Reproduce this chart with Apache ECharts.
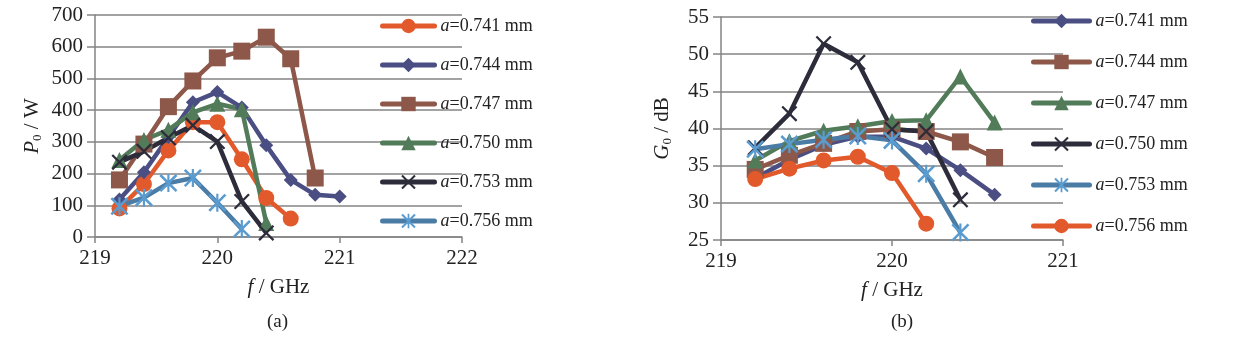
<!DOCTYPE html>
<html><head><meta charset="utf-8">
<script src="https://cdn.jsdelivr.net/npm/echarts@6/dist/echarts.min.js"></script>
<style>html,body{margin:0;padding:0;background:#fff}#c{width:1235px;height:340px}</style>
</head><body><div id="c"></div>
<script>
// Frequencies (GHz)
const freq = [219.2, 219.4, 219.6, 219.8, 220.0, 220.2, 220.4, 220.6, 220.8, 221.0];
// Chart (a): output power P0 / W
const labelsA = ['0.741', '0.744', '0.747', '0.750', '0.753', '0.756'];
const p741 = [90, 167, 273, 362, 362, 245, 123, 58];
const p744 = [118, 204, 315, 425, 457, 408, 289, 180, 133, 128];
const p747 = [180, 293, 411, 492, 565, 586, 630, 562, 186];
const p750 = [243, 306, 338, 393, 420, 403, 44];
const p753 = [236, 270, 313, 352, 301, 112, 13];
const p756 = [97, 124, 170, 186, 108, 25];
// Chart (b): gain G0 / dB
const labelsB = ['0.741', '0.744', '0.747', '0.750', '0.753', '0.756'];
const g741 = [33.3, 35.8, 37.8, 38.9, 38.9, 37.3, 34.4, 31.1];
const g744 = [34.5, 36.4, 38.0, 39.6, 39.9, 39.6, 38.2, 36.1];
const g747 = [35.7, 38.3, 39.7, 40.3, 41.0, 41.1, 47.0, 40.8];
const g750 = [37.4, 42.0, 51.4, 48.9, 39.9, 39.6, 30.4];
const g753 = [37.2, 37.9, 38.5, 39.0, 38.4, 33.9, 26.0];
const g756 = [33.2, 34.6, 35.7, 36.2, 34.0, 27.2];
// Axis ticks
const xTicksA = [219, 220, 221, 222];
const xTicksB = [219, 220, 221];

const FONT = 'Liberation Serif';
const C = {
  orange: '#e2592c', purple: '#4a4e82', brown: '#8d5849', green: '#517b59', black: '#2d2c3b', blue: '#4a7ca6'
};
const XPATH = 'path://M1,0 L10,9 L9,10 L0,1 Z M9,0 L10,1 L1,10 L0,9 Z';
const STARPATH = 'path://M1,0 L10,9 L9,10 L0,1 Z M9,0 L10,1 L1,10 L0,9 Z M4.4,0 L5.6,0 L5.6,10 L4.4,10 Z';
const styles = {
  circle: {symbol: 'circle', symbolSize: 16},
  diamond: {symbol: 'diamond', symbolSize: 14},
  rect: {symbol: 'rect', symbolSize: 17},
  triangle: {symbol: 'triangle', symbolSize: 16},
  x: {symbol: XPATH, symbolSize: 16},
  star: {symbol: STARPATH, symbolSize: 18}
};
function pairs(vals) { return vals.map((v, i) => [freq[i], v]); }
function mk(name, vals, color, st, idx, markerColor) {
  return {
    name: name, type: 'line', xAxisIndex: idx, yAxisIndex: idx,
    data: pairs(vals), symbol: styles[st].symbol, symbolSize: styles[st].symbolSize,
    showAllSymbol: true, animation: false,
    lineStyle: {color: color, width: 4.5},
    itemStyle: {color: markerColor || color, borderWidth: 0}
  };
}
const seriesA = [
  mk('A ' + labelsA[0], p741, C.orange, 'circle', 0),
  mk('A ' + labelsA[1], p744, C.purple, 'diamond', 0),
  mk('A ' + labelsA[2], p747, C.brown, 'rect', 0),
  mk('A ' + labelsA[3], p750, C.green, 'triangle', 0),
  mk('A ' + labelsA[4], p753, C.black, 'x', 0),
  mk('A ' + labelsA[5], p756, C.blue, 'star', 0, '#5a9bd0')
];
const seriesB = [
  mk('B ' + labelsB[0], g741, C.purple, 'diamond', 1),
  mk('B ' + labelsB[1], g744, C.brown, 'rect', 1),
  mk('B ' + labelsB[2], g747, C.green, 'triangle', 1),
  mk('B ' + labelsB[3], g750, C.black, 'x', 1),
  mk('B ' + labelsB[4], g753, C.blue, 'star', 1, '#5a9bd0'),
  mk('B ' + labelsB[5], g756, C.orange, 'circle', 1)
];

const axisLineStyle = {color: '#858585', width: 1.5};
function xAxis(idx, min, max) {
  return {
    type: 'value', gridIndex: idx, min: min, max: max, interval: 1,
    name: '{i|f} / GHz', nameLocation: 'middle', nameGap: 40,
    nameTextStyle: {fontFamily: FONT, fontSize: 21, color: '#222', rich: {i: {fontFamily: FONT, fontSize: 21, fontStyle: 'italic', color: '#222'}}},
    axisLine: {show: true, onZero: false, lineStyle: axisLineStyle},
    axisTick: {show: true, length: 6, inside: false, lineStyle: axisLineStyle},
    axisLabel: {fontFamily: FONT, fontSize: 21, color: '#222', margin: 11},
    splitLine: {show: false}
  };
}
function yAxis(idx, min, max, interval, name, gap) {
  return {
    type: 'value', gridIndex: idx, min: min, max: max, interval: interval,
    name: name, nameLocation: 'middle', nameGap: gap, nameRotate: 90,
    nameTextStyle: {fontFamily: FONT, fontSize: 21, color: '#222',
      rich: {i: {fontFamily: FONT, fontSize: 21, fontStyle: 'italic', color: '#222'},
             s: {fontFamily: FONT, fontSize: 13, color: '#222', padding: [10, 0, 0, 0]}}},
    axisLine: {show: true, lineStyle: axisLineStyle},
    axisTick: {show: true, length: 8, lineStyle: axisLineStyle},
    axisLabel: {fontFamily: FONT, fontSize: 21, color: '#222', margin: 12},
    splitLine: {show: true, lineStyle: {color: '#858585', width: 1.5}}
  };
}
function legend(names, left, top, w, gap) {
  return {
    data: names, orient: 'vertical', left: left, top: top, padding: 0,
    itemWidth: w, itemHeight: 18, itemGap: gap, selectedMode: false,
    lineStyle: {width: 5, cap: 'round'},
    formatter: n => '{i|a}=' + n.slice(2) + ' mm',
    textStyle: {fontFamily: FONT, fontSize: 18, color: '#222', padding: [0, 0, 0, 1],
      rich: {i: {fontFamily: FONT, fontSize: 18, fontStyle: 'italic', color: '#222'}}}
  };
}
const chart = echarts.init(document.getElementById('c'), null, {renderer: 'canvas'});
chart.setOption({
  backgroundColor: '#fff',
  animation: false,
  grid: [
    {left: 95, top: 15, width: 367, height: 222},
    {left: 721, top: 17, width: 342, height: 223}
  ],
  xAxis: [xAxis(0, xTicksA[0], xTicksA[xTicksA.length - 1]), xAxis(1, xTicksB[0], xTicksB[xTicksB.length - 1])],
  yAxis: [
    yAxis(0, 0, 700, 100, '{i|P}{s|0} / W', 51),
    yAxis(1, 25, 55, 5, '{i|G}{s|0} / dB', 47)
  ],
  legend: [
    legend(seriesA.map(s => s.name), 380, 17, 52, 21),
    legend(seriesB.map(s => s.name), 1031, 12, 56, 23)
  ],
  graphic: [
    {type: 'text', left: 267, top: 313, style: {text: '(a)', fontFamily: FONT, fontSize: 19, fill: '#222'}},
    {type: 'text', left: 891, top: 313, style: {text: '(b)', fontFamily: FONT, fontSize: 19, fill: '#222'}}
  ],
  series: seriesA.concat(seriesB)
});
</script></body></html>
